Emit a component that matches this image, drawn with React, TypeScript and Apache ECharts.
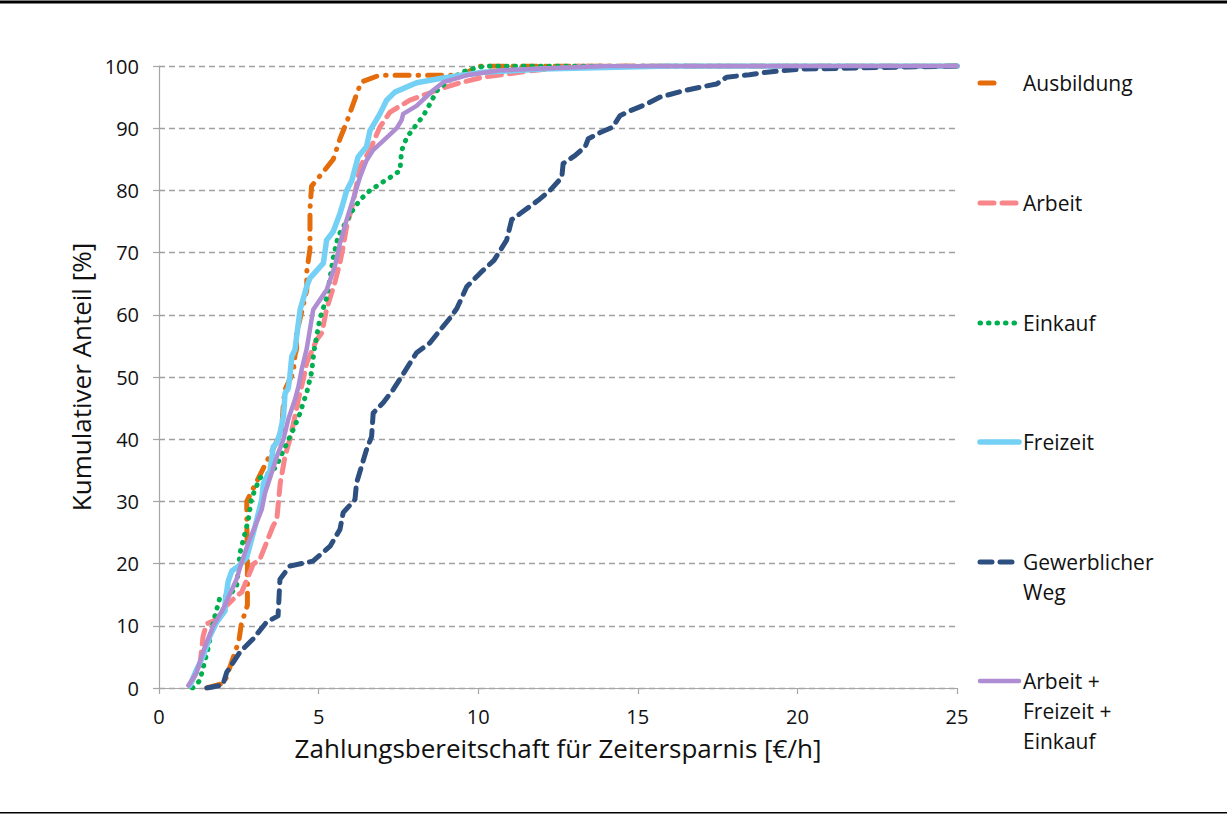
import React, { useEffect, useRef } from "react";
import * as echarts from "echarts";

const FONT = "'Open Sans', 'Noto Sans', sans-serif";

const xTicks = [0, 5, 10, 15, 20, 25];
const yTicks = [0, 10, 20, 30, 40, 50, 60, 70, 80, 90, 100];

const legendNames = ["Ausbildung", "Arbeit", "Einkauf", "Freizeit", "Gewerblicher\nWeg", "Arbeit +\nFreizeit +\nEinkauf"];

const ausbildung: number[][] = [
  [1.5, 0], [2.05, 0.8], [2.5, 7.5], [2.58, 10.3], [2.77, 13.3], [2.77, 17], [2.77, 20], [2.75, 27.5], [2.75, 30],
  [3.84, 41.2], [3.9, 46], [3.95, 48], [4.21, 50.8], [4.26, 53.5], [4.31, 54.5], [4.31, 57], [4.63, 64], [4.63, 67],
  [4.73, 70.6], [4.73, 74], [4.73, 77], [4.78, 80.7], [5.15, 83], [5.46, 85], [5.67, 88.3], [5.88, 91], [6.09, 94],
  [6.33, 97.4], [6.9, 98.5], [9.5, 98.5], [10, 100], [25, 100],
];

const arbeit: number[][] = [
  [0.97, 0.4], [1.28, 3.6], [1.38, 8.3], [1.49, 10.3], [1.81, 11], [2.01, 12.7], [2.43, 14.8], [2.59, 15.4],
  [2.95, 19.9], [3.16, 20.7], [3.37, 23.4], [3.57, 26], [3.69, 27.1], [3.75, 30.3], [3.8, 33], [3.95, 37.3],
  [4.1, 40], [4.26, 43.7], [4.37, 46.4], [4.52, 49.6], [4.63, 52.3], [4.94, 56], [5.1, 57.1], [5.25, 60.9],
  [5.51, 65.2], [5.67, 68.4], [5.77, 71], [5.88, 74.2], [6.08, 78], [6.3, 83.8], [6.61, 86.5], [6.92, 90.2],
  [7.24, 92.6], [7.86, 94.5], [8.39, 95.5], [8.8, 96.3], [9.43, 97.3], [10.15, 98.2], [11.6, 99.2], [13, 100], [25, 100],
];

const einkauf: number[][] = [
  [1.05, 0], [1.28, 1.2], [1.55, 6.6], [1.7, 10.6], [1.91, 14.6], [2.17, 14.8], [2.43, 16.2], [2.54, 21.8],
  [2.7, 25], [2.8, 27.1], [2.9, 30.5], [3.06, 32.5], [3.16, 33.8], [3.48, 34.6], [3.69, 35.7], [3.79, 37],
  [4.21, 41.6], [4.42, 44.2], [4.52, 45.9], [4.63, 47.5], [4.78, 50.8], [4.86, 54.3], [5.04, 59.4], [5.25, 62.7],
  [5.36, 66], [5.46, 69.2], [5.61, 72.6], [6.04, 76.6], [6.3, 78.5], [6.61, 80], [7.03, 81.4], [7.34, 82.4],
  [7.55, 83.2], [7.6, 86.4], [7.76, 88.5], [8.07, 90.6], [8.28, 92], [8.52, 94.2], [8.7, 96], [9.01, 97.4],
  [9.33, 98.5], [9.64, 99.3], [10.2, 100], [25, 100],
];

const freizeit: number[][] = [
  [0.97, 0.4], [1.18, 3], [1.39, 5.2], [1.6, 8.4], [1.81, 10.6], [2.07, 12.4], [2.07, 13.8], [2.17, 17.2],
  [2.28, 18.8], [2.49, 19.6], [2.75, 21], [3.01, 26], [3.22, 30.3], [3.27, 32.9], [3.48, 35], [3.58, 38.8],
  [3.69, 39.4], [3.79, 41], [3.9, 43.7], [3.95, 47.4], [4.05, 48.2], [4.1, 50.1], [4.16, 53.3], [4.26, 54.4],
  [4.42, 60.8], [4.63, 64.6], [4.73, 65.9], [5.15, 68.3], [5.25, 72], [5.46, 73.4], [5.67, 76.3], [5.77, 78],
  [5.88, 80], [6.04, 81.6], [6.24, 85.4], [6.5, 87], [6.61, 89.6], [6.92, 92.3], [7.13, 94.5], [7.39, 95.8],
  [8.07, 97.3], [8.8, 98], [10.15, 99], [12, 99.5], [16, 100], [25, 100],
];

const gewerblich: number[][] = [
  [1.5, 0], [2.0, 0.5], [2.12, 2.5], [2.54, 5.8], [2.95, 7.9], [3.37, 10.6], [3.73, 11.6], [3.79, 17.5],
  [4.1, 19.6], [4.82, 20.4], [5.36, 22.8], [5.67, 25.5], [5.77, 28.2], [6.14, 30.3], [6.19, 33], [6.5, 38.3],
  [6.66, 40.4], [6.71, 44.2], [7.03, 45.9], [7.34, 48], [7.65, 50.5], [8.07, 53.9], [8.49, 55.5], [8.8, 57.5],
  [9.12, 59.5], [9.33, 61], [9.64, 64.5], [10.06, 66.7], [10.5, 68.8], [10.89, 72], [11.05, 75.3], [11.4, 76.6],
  [11.88, 78.4], [12.25, 80], [12.62, 82.1], [12.66, 84.3], [13.03, 85.6], [13.35, 87], [13.45, 88.3],
  [13.82, 89.3], [14.22, 90.2], [14.44, 92], [14.76, 92.8], [15.28, 93.9], [15.7, 95], [16.42, 96],
  [17.05, 96.7], [17.47, 97.1], [17.78, 98.2], [18.5, 98.6], [19.04, 99], [20.08, 99.5], [25, 100],
];

const kombi: number[][] = [
  [0.92, 0.4], [1.18, 2.5], [1.34, 5.2], [1.49, 7.3], [1.7, 10], [2.01, 12.7], [2.22, 15.1], [2.43, 17.5],
  [2.59, 20.2], [2.8, 23.4], [3.01, 26], [3.22, 28.7], [3.32, 31.3], [3.53, 34.6], [3.69, 37.2], [3.9, 40],
  [4.05, 43.2], [4.26, 46.4], [4.37, 48.5], [4.47, 51.2], [4.63, 54.6], [4.83, 60.8], [5.04, 62.4], [5.25, 64],
  [5.51, 67.8], [5.67, 71.5], [5.88, 75.3], [6.04, 77.9], [6.3, 82.2], [6.5, 84.8], [6.71, 86.5], [7.03, 88],
  [7.45, 90], [7.6, 91.3], [7.65, 92.3], [8.07, 93.6], [8.59, 96.1], [8.91, 97.4], [9.64, 98.5], [10.68, 99.3],
  [14, 100], [25, 100],
];

const seriesData = [ausbildung, arbeit, einkauf, freizeit, gewerblich, kombi];
const colors = ["#E46C0A", "#F7858A", "#00B050", "#74D0F4", "#2E5080", "#AE8DD2"];
const widths = [5, 5, 5, 5.5, 5, 4.5];
const dashes: any[] = [[14, 9, 0.5, 9], [14, 8], [0.5, 8], "solid", [12, 8], "solid"];

export default function App() {
  const ref = useRef<HTMLDivElement>(null);
  useEffect(() => {
    if (!ref.current) return;
    const chart = echarts.init(ref.current, null, { renderer: "svg" });

    const legendTop = [83, 203, 323, 442, 562, 681];
    const graphics: any[] = [
      { type: "rect", shape: { x: 0, y: 0.5, width: 1227, height: 3 }, style: { fill: "#000" } },
      { type: "rect", shape: { x: 0, y: 812, width: 1227, height: 1.5 }, style: { fill: "#000" } },
    ];
    legendNames.forEach((name, i) => {
      const y = legendTop[i];
      const d = dashes[i];
      graphics.push({
        type: "line",
        shape: { x1: 980, y1: y, x2: i === 0 ? 999 : 1019, y2: y },
        style: {
          stroke: colors[i],
          lineWidth: widths[i],
          lineDash: d === "solid" ? null : d,
          lineCap: "round",
        },
      });
      graphics.push({
        type: "text",
        x: 1023,
        y: y - 15,
        style: {
          text: name,
          fill: "#111",
          font: `21px ${FONT}`,
          lineHeight: 30,
          textVerticalAlign: "top",
        },
      });
    });

    chart.setOption({
      animation: false,
      backgroundColor: "#fff",
      grid: { left: 159, right: 270, top: 66, bottom: 126, containLabel: false },
      xAxis: {
        type: "value",
        min: xTicks[0],
        max: xTicks[xTicks.length - 1],
        interval: 5,
        axisLine: { show: true, lineStyle: { color: "#A6A6A6", width: 1.2 } },
        axisTick: { show: true, length: 6, lineStyle: { color: "#A6A6A6", width: 1.2 } },
        splitLine: { show: false },
        axisLabel: { fontSize: 20, color: "#111", fontFamily: FONT, margin: 18 },
        name: "Zahlungsbereitschaft für Zeitersparnis [€/h]",
        nameLocation: "middle",
        nameGap: 47,
        nameTextStyle: { fontSize: 26, color: "#111", fontFamily: FONT },
      },
      yAxis: {
        type: "value",
        min: yTicks[0],
        max: yTicks[yTicks.length - 1],
        interval: 10,
        axisLine: { show: true, lineStyle: { color: "#A6A6A6", width: 1.2 } },
        axisTick: { show: true, length: 6, lineStyle: { color: "#A6A6A6", width: 1.2 } },
        splitLine: { show: true, lineStyle: { color: "#A0A0A0", width: 1.3, type: [6, 4] } },
        axisLabel: { fontSize: 20, color: "#111", fontFamily: FONT, margin: 20 },
        name: "Kumulativer Anteil [%]",
        nameLocation: "middle",
        nameRotate: 90,
        nameGap: 52,
        nameTextStyle: { fontSize: 26, color: "#111", fontFamily: FONT },
      },
      series: seriesData.map((data, i) => ({
        name: legendNames[i],
        type: "line",
        data,
        showSymbol: false,
        symbol: "none",
        smooth: false,
        lineStyle: {
          color: colors[i],
          width: widths[i],
          type: dashes[i],
          cap: "round",
          join: "round",
        },
      })),
      graphic: graphics,
    });
    return () => chart.dispose();
  }, []);
  return (
    <div
      ref={ref}
      style={{ position: "fixed", left: 0, top: 0, width: 1227, height: 814, background: "#fff" }}
    />
  );
}
